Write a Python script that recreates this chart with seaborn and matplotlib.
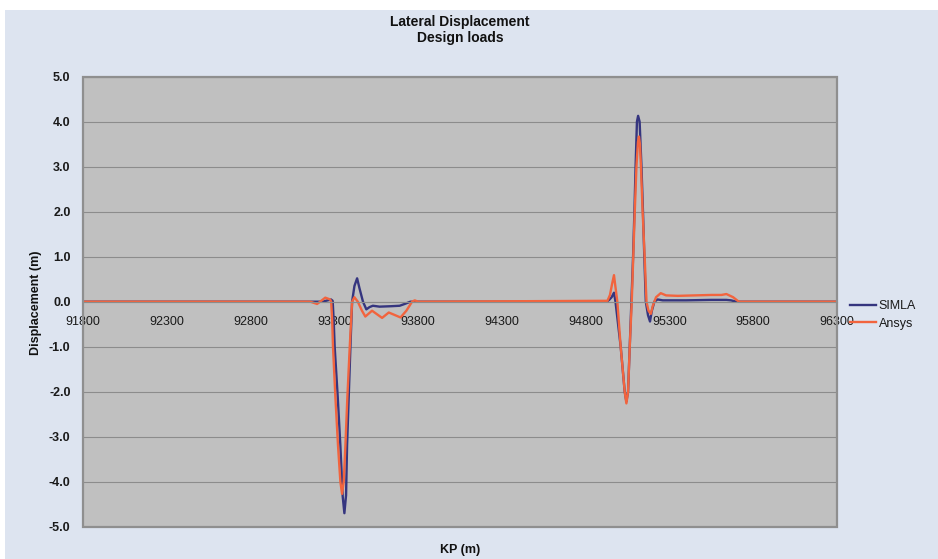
import matplotlib
matplotlib.use("Agg")
import matplotlib.pyplot as plt
from matplotlib.patches import Rectangle
import numpy as np
import pandas as pd
import seaborn as sns

# ---- data -------------------------------------------------------------
simla_kp = [91800, 93230, 93260, 93280, 93290, 93296, 93302, 93320, 93336,
            93350, 93360, 93370, 93376, 93386, 93396, 93406, 93420, 93436,
            93450, 93471, 93491, 93510, 93530, 93570, 93640, 93690, 93720,
            93754, 94925, 94940, 94955, 94969, 94978, 94995, 95009, 95033,
            95043, 95053, 95063, 95073, 95083, 95091, 95098, 95106, 95113,
            95122, 95133, 95142, 95150, 95159, 95172, 95184, 95195, 95210,
            95229, 95260, 95400, 95550, 95640, 95667, 95700, 96300]
simla_disp = [0.0, 0.0, 0.03, 0.05, 0.02, -0.4, -1.0, -2.1, -3.2,
              -4.33, -4.70, -4.3, -3.2, -2.1, -1.0, 0.0, 0.35, 0.52,
              0.3, 0.0, -0.17, -0.12, -0.09, -0.11, -0.1, -0.09, -0.05,
              0.0, 0.0, 0.04, 0.1, 0.2, 0.0, -0.55, -1.0, -2.0,
              -2.22, -2.0, -1.0, 0.0, 1.0, 2.0, 3.0, 4.0, 4.13,
              4.0, 3.0, 2.0, 1.0, 0.0, -0.3, -0.44, -0.2, 0.0,
              0.05, 0.03, 0.03, 0.04, 0.04, 0.03, 0.0, 0.0]

ansys_kp = [91800, 93157, 93197, 93215, 93246, 93275, 93281, 93287, 93292,
            93306, 93322, 93336, 93346, 93356, 93366, 93378, 93392, 93406,
            93420, 93440, 93465, 93485, 93525, 93585, 93625, 93695, 93730,
            93764, 93780, 93800, 94930, 94945, 94958, 94969, 94977, 94989,
            95009, 95033, 95043, 95053, 95063, 95075, 95084, 95093, 95103,
            95112, 95118, 95124, 95130, 95140, 95152, 95163, 95175, 95189,
            95200, 95220, 95248, 95280, 95350, 95450, 95550, 95610, 95640,
            95680, 95714, 96300]
ansys_disp = [0.0, 0.0, -0.05, 0.0, 0.09, 0.05, 0.0, -0.4, -1.0,
              -2.1, -3.2, -4.0, -4.27, -4.0, -3.2, -2.1, -1.0, 0.0,
              0.1, 0.0, -0.2, -0.33, -0.2, -0.36, -0.24, -0.35, -0.2,
              0.0, 0.03, 0.0, 0.02, 0.15, 0.4, 0.59, 0.35, 0.0,
              -1.0, -2.0, -2.26, -2.0, -1.0, 0.0, 1.0, 2.0, 3.0,
              3.55, 3.67, 3.5, 3.0, 2.0, 1.0, 0.0, -0.2, -0.27,
              -0.1, 0.1, 0.19, 0.14, 0.13, 0.14, 0.15, 0.15, 0.17,
              0.1, 0.0, 0.0]

series_names = ["SIMLA", "Ansys"]
series_colors = ["#35357f", "#f2643e"]

x_ticks = list(range(91800, 96301, 500))
y_ticks = [-5.0, -4.0, -3.0, -2.0, -1.0, 0.0, 1.0, 2.0, 3.0, 4.0, 5.0]

df = pd.concat([
    pd.DataFrame({"KP": simla_kp, "Disp": simla_disp, "Series": "SIMLA"}),
    pd.DataFrame({"KP": ansys_kp, "Disp": ansys_disp, "Series": "Ansys"}),
], ignore_index=True)

# ---- figure -----------------------------------------------------------
W, H = 938, 559
fig = plt.figure(figsize=(W / 100, H / 100), dpi=100, facecolor="white")
fig.patches.append(Rectangle((5 / W, 0), 1, 1 - 10 / H, transform=fig.transFigure,
                             facecolor="#dde4f0", edgecolor="none", zorder=-10))

left, right, top, bottom = 83, 837, 76.7, 526.7
ax = fig.add_axes([left / W, 1 - bottom / H, (right - left) / W, (bottom - top) / H])
ax.set_facecolor("#c0c0c0")

sns.lineplot(data=df, x="KP", y="Disp", hue="Series", hue_order=series_names,
             palette=series_colors, estimator=None, linewidth=1.7, ax=ax)

ax.set_xlim(x_ticks[0], x_ticks[-1])
ax.set_ylim(-5, 5)
ax.set_xticks(x_ticks)
ax.set_xticklabels([str(t) for t in x_ticks])
ax.set_yticks(y_ticks)
ax.set_yticklabels([f"{t:.1f}" for t in y_ticks])

# horizontal gridlines
ax.grid(False)
for yv in y_ticks:
    ax.axhline(yv, color="#8c8c8c", linewidth=0.8, zorder=0.5)

# category axis crosses at zero
for s in ["top", "right", "left"]:
    ax.spines[s].set_visible(False)
ax.spines["bottom"].set_position(("data", 0))
ax.spines["bottom"].set_color("#8c8c8c")
ax.spines["bottom"].set_linewidth(0.8)
ax.add_patch(Rectangle((0, 0), 1, 1, transform=ax.transAxes, fill=False,
                       edgecolor="#8f8f8f", linewidth=1.6, clip_on=False, zorder=3))

font = ["Liberation Sans", "DejaVu Sans"]
ax.tick_params(axis="x", length=0, pad=10, labelsize=9, labelcolor="#1a1a1a")
ax.tick_params(axis="y", length=0, pad=9, labelsize=9, labelcolor="#1a1a1a")
for lab in ax.get_xticklabels():
    lab.set_family(font)
for lab in ax.get_yticklabels():
    lab.set_family(font)
    lab.set_fontweight("bold")
ax.set_xlabel("")
ax.set_ylabel("")

# titles and axis titles
fig.text(460 / W, 1 - 22 / H, "Lateral Displacement", ha="center", va="center",
         fontsize=10, fontweight="bold", family=font, color="#111111")
fig.text(460 / W, 1 - 38 / H, "Design loads", ha="center", va="center",
         fontsize=10, fontweight="bold", family=font, color="#111111")
fig.text(36 / W, 1 - 303 / H, "Displacement (m)", ha="center", va="center",
         rotation=90, fontsize=9, fontweight="bold", family=font, color="#111111")
fig.text(460 / W, 1 - 550 / H, "KP (m)", ha="center", va="center",
         fontsize=9, fontweight="bold", family=font, color="#111111")

# legend outside the plot area
handles, labels = ax.get_legend_handles_labels()
leg = ax.legend(handles, labels, loc="center left",
                bbox_to_anchor=(850 / W, 1 - 315 / H), bbox_transform=fig.transFigure,
                frameon=False, handlelength=2.1, handletextpad=0.2,
                labelspacing=0.45, borderpad=0, borderaxespad=0,
                prop={"family": font, "size": 9})
for t in leg.get_texts():
    t.set_color("#1a1a1a")

fig.savefig("out.png", dpi=100, facecolor=fig.get_facecolor())
